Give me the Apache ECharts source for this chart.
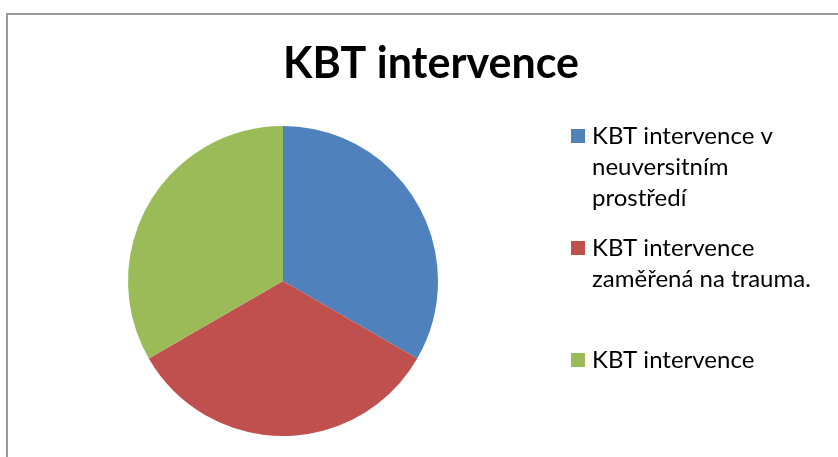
<!DOCTYPE html>
<html>
<head>
<meta charset="utf-8">
<script src="https://cdn.jsdelivr.net/npm/echarts@6/dist/echarts.min.js"></script>
<style>
  html, body { margin: 0; padding: 0; background: #fff; }
  #chart { width: 838px; height: 457px; }
</style>
</head>
<body>
<div id="chart"></div>
<script>
// data
const categories = [
  'KBT intervence v neuversitním prostředí',
  'KBT intervence zaměřená na trauma.',
  'KBT intervence'
];
const legendLines = [
  ['KBT intervence v', 'neuversitním', 'prostředí'],
  ['KBT intervence', 'zaměřená na trauma.'],
  ['KBT intervence']
];
const values = [1, 1, 1];
const colors = ['#4F81BD', '#C0504D', '#9BBB59'];

const chart = echarts.init(document.getElementById('chart'));

// legend icons sit on the first text line, so pad each text with empty lines above
const LINE_H = 31;
const PAD_TOP = 8;
const iconTops = [129, 241, 353];
const legends = categories.map((name, i) => {
  const k = legendLines[i].length;
  const text = '\n'.repeat(k - 1) + legendLines[i].join('\n');
  return {
    orient: 'vertical',
    left: 571,
    top: iconTops[i] + 7 - ((2 * k - 1) * LINE_H + PAD_TOP) / 2,
    padding: 0,
    icon: 'rect',
    itemWidth: 14,
    itemHeight: 14,
    selectedMode: false,
    data: [name],
    formatter: () => text,
    textStyle: {
      fontFamily: 'Lato', fontSize: 24, lineHeight: LINE_H, color: '#000',
      padding: [PAD_TOP, 0, 0, 2]
    }
  };
});

const option = {
  animation: false,
  backgroundColor: '#fff',
  color: colors,
  title: {
    text: 'KBT intervence',
    left: 283,
    top: 43,
    padding: 0,
    textStyle: { fontFamily: 'Lato', fontWeight: 'bold', fontSize: 43, color: '#000' }
  },
  legend: legends,
  graphic: [{
    type: 'rect',
    silent: true,
    shape: { x: 7, y: 14, width: 900, height: 500 },
    style: { fill: 'none', stroke: '#9a9a9a', lineWidth: 2 }
  }],
  series: [{
    type: 'pie',
    center: [283, 281],
    radius: 155,
    startAngle: 90,
    clockwise: true,
    label: { show: false },
    labelLine: { show: false },
    emphasis: { disabled: true },
    itemStyle: { borderWidth: 0 },
    data: categories.map((name, i) => ({ name, value: values[i] }))
  }]
};

chart.setOption(option);
</script>
</body>
</html>
